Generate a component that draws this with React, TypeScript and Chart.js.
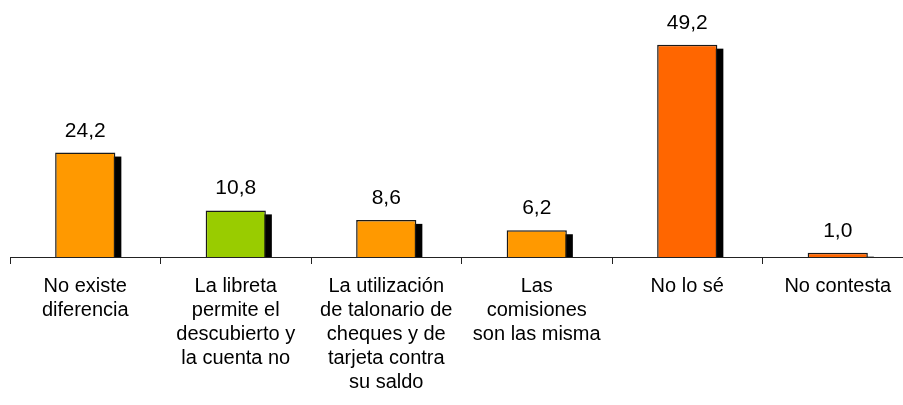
import React, { useEffect, useRef } from "react";
import { Chart, registerables } from "chart.js";

Chart.register(...registerables);

const categories: (string | string[])[] = [
  ["No existe", "diferencia"],
  ["La libreta", "permite el", "descubierto y", "la cuenta no"],
  ["La utilización", "de talonario de", "cheques y de", "tarjeta contra", "su saldo"],
  ["Las", "comisiones", "son las misma"],
  "No lo sé",
  "No contesta",
];
const values = [24.2, 10.8, 8.6, 6.2, 49.2, 1.0];
const barColors = ["#FF9900", "#99CC00", "#FF9900", "#FF9900", "#FF6600", "#FF6600"];

const FONT = "'Liberation Sans', Arial, sans-serif";

const shadowPlugin = {
  id: "barShadow",
  beforeDatasetsDraw(chart: any) {
    const ctx = chart.ctx;
    const meta = chart.getDatasetMeta(0);
    ctx.save();
    ctx.fillStyle = "#000";
    meta.data.forEach((bar: any) => {
      const p = bar.getProps(["x", "y", "base", "width"], true);
      const left = p.x - p.width / 2 + 6;
      const top = p.y + 4;
      const h = p.base - top;
      if (h > 0) ctx.fillRect(left, top, p.width, h);
    });
    ctx.restore();
  },
  afterDatasetsDraw(chart: any) {
    const ctx = chart.ctx;
    const meta = chart.getDatasetMeta(0);
    ctx.save();
    ctx.fillStyle = "#000";
    ctx.font = `21px ${FONT}`;
    ctx.textAlign = "center";
    ctx.textBaseline = "alphabetic";
    meta.data.forEach((bar: any, i: number) => {
      const p = bar.getProps(["x", "y"], true);
      ctx.fillText(values[i].toFixed(1).replace(".", ","), p.x, p.y - 16);
    });
    ctx.restore();
  },
};

export default function App() {
  const ref = useRef<HTMLCanvasElement>(null);
  useEffect(() => {
    if (!ref.current) return;
    const chart = new Chart(ref.current, {
      type: "bar",
      data: {
        labels: categories,
        datasets: [
          {
            data: values,
            backgroundColor: barColors,
            borderColor: "#1a1a1a",
            borderWidth: 1.5,
            categoryPercentage: 1,
            barPercentage: 0.4,
          },
        ],
      },
      options: {
        animation: false,
        responsive: false,
        devicePixelRatio: 1,
        layout: { padding: { left: 10, right: 3, top: 11, bottom: 0 } },
        plugins: { legend: { display: false }, tooltip: { enabled: false } },
        scales: {
          x: {
            offset: true,
            border: { display: true, color: "#222", width: 1 },
            grid: {
              offset: true,
              drawOnChartArea: false,
              drawTicks: true,
              tickLength: 7,
              color: "#222",
            },
            ticks: {
              color: "#000",
              padding: 11,
              maxRotation: 0,
              autoSkip: false,
              font: { family: FONT, size: 20, lineHeight: 1.19 },
            },
            afterFit: (scale: any) => {
              scale.height = 148;
            },
          },
          y: { display: false, min: 0, max: 57 },
        },
      },
      plugins: [shadowPlugin],
    });
    return () => chart.destroy();
  }, []);
  return (
    <div
      style={{
        position: "fixed",
        left: 0,
        top: 0,
        width: 903,
        height: 405,
        overflow: "hidden",
        background: "#fff",
      }}
    >
      <canvas ref={ref} width={916} height={405} style={{ width: 916, height: 405, display: "block" }} />
    </div>
  );
}
